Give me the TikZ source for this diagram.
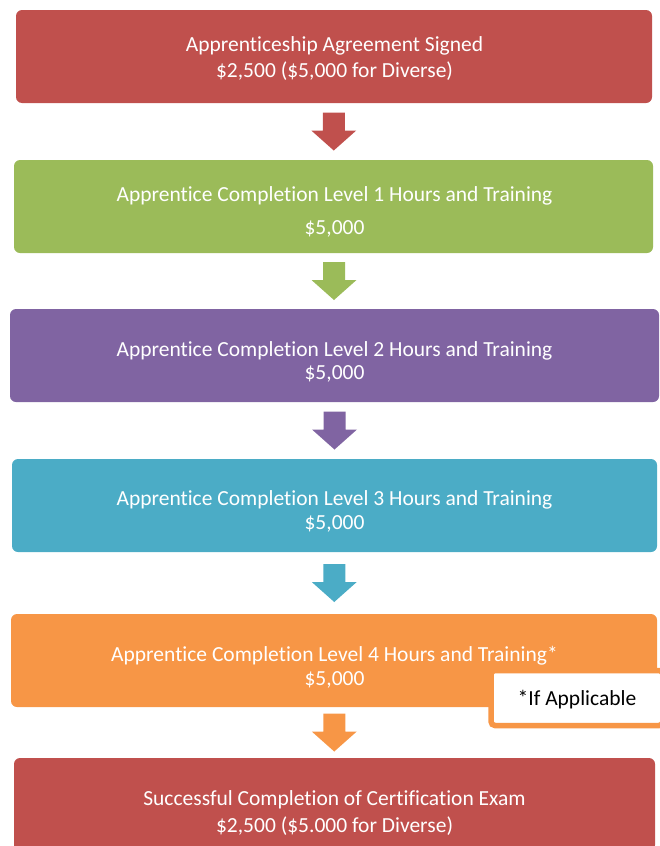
\documentclass[tikz,border=0pt]{standalone}
\usepackage{fontspec}
\setmainfont{Carlito}[Ligatures=NoCommon]
\usetikzlibrary{calc}
\definecolor{stepred}{HTML}{C0504D}
\definecolor{stepgreen}{HTML}{9BBB59}
\definecolor{steppurple}{HTML}{8064A2}
\definecolor{stepteal}{HTML}{4BACC6}
\definecolor{steporange}{HTML}{F79646}
\tikzset{
  stagebox/.style={rectangle, rounded corners=6pt, minimum height=93pt, inner sep=0pt},
  stagetext/.style={text=white, align=center, inner sep=0pt},
}
% block arrow between two stages: from, to, colour
\newcommand{\stagearrow}[3]{%
  \coordinate (m) at ($(#1.south)!.5!(#2.north)$);
  \fill[#3] ([xshift=-11pt,yshift=19pt]m) -- ([xshift=11pt,yshift=19pt]m)
    -- ([xshift=11pt,yshift=1pt]m) -- ([xshift=22.5pt,yshift=1pt]m)
    -- ([yshift=-19pt]m) -- ([xshift=-22.5pt,yshift=1pt]m)
    -- ([xshift=-11pt,yshift=1pt]m) -- cycle;}
\begin{document}
\begin{tikzpicture}[x=1pt,y=-1pt]
\useasboundingbox (0,0) rectangle (660,846);
% stages
\node[stagebox, fill=stepred, minimum width=636pt] (b1) at (334,56.5){};
\node[stagebox, fill=stepgreen, minimum width=639pt] (b2) at (333.5,206.5){};
\node[stagebox, fill=steppurple, minimum width=649pt] (b3) at (334.5,355.5){};
\node[stagebox, fill=stepteal, minimum width=645pt] (b4) at (334.5,505.5){};
\node[stagebox, fill=steporange, minimum width=646pt] (b5) at (334,660.5){};
\node[stagebox, fill=stepred, minimum width=641pt] (b6) at (334.5,804.5){};
% texts
\node[stagetext, font=\fontsize{21.5}{26}\selectfont] (t1) at (334.5,59)
  {Apprenticeship Agreement Signed\\\$2,500 (\$5,000 for Diverse)};
\node[stagetext, font=\fontsize{21.5}{33}\selectfont] (t2) at (334.5,211.5)
  {Apprentice Completion Level 1 Hours and Training\\\$5,000};
\node[stagetext, font=\fontsize{21.5}{23}\selectfont] (t3) at (334.5,361.5)
  {Apprentice Completion Level 2 Hours and Training\\\$5,000};
\node[stagetext, font=\fontsize{21.5}{24}\selectfont] (t4) at (334.5,511)
  {Apprentice Completion Level 3 Hours and Training\\\$5,000};
\node[stagetext, font=\fontsize{21.5}{24}\selectfont] (t5) at (334.5,667)
  {Apprentice Completion Level 4 Hours and Training*\\\$5,000};
\node[stagetext, font=\fontsize{21.5}{27}\selectfont] (t6) at (334.5,813.5)
  {Successful Completion of Certification Exam\\\$2,500 (\$5.000 for Diverse)};
% note
\node[rectangle, rounded corners=4pt, draw=steporange, line width=5.5pt, fill=white,
  minimum width=172pt, minimum height=55pt, text depth=0pt, inner sep=0pt,
  font=\fontsize{21.5}{24}\selectfont] (note) at (577,698){*If Applicable};
% arrows
\stagearrow{b1}{b2}{stepred}
\stagearrow{b2}{b3}{stepgreen}
\stagearrow{b3}{b4}{steppurple}
\stagearrow{b4}{b5}{stepteal}
\stagearrow{b5}{b6}{steporange}
\end{tikzpicture}
\end{document}
